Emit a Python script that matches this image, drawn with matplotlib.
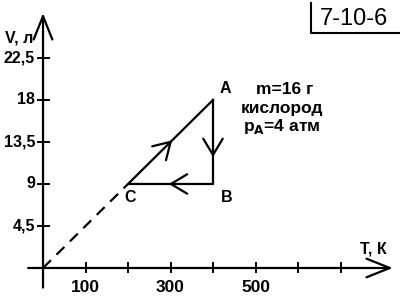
import matplotlib
matplotlib.use("Agg")
import matplotlib.pyplot as plt

plt.rcParams['font.family'] = ['Liberation Sans', 'DejaVu Sans']

# data
T_cycle = [400, 400, 200, 400]      # A -> B -> C -> A
V_cycle = [18, 9, 9, 18]
point_labels = ['A', 'B', 'C']
point_T = [400, 400, 200]
point_V = [18, 9, 9]
x_ticks = [100, 200, 300, 400, 500, 600, 700]
x_tick_labels = ['100', '', '300', '', '500', '', '']
y_ticks = [4.5, 9, 13.5, 18, 22.5]
y_tick_labels = ['4,5', '9', '13,5', '18', '22,5']

fig = plt.figure(figsize=(4, 3), dpi=100)
ax = fig.add_axes([0, 0, 1, 1])
ax.set_xlim(-101.2, 840)
ax.set_ylim(-3.43, 28.71)
ax.axis('off')

dx = (840 + 101.2) / 400
dy = (28.71 + 3.43) / 300

lw = 1.6
axis_head = '->, head_length=0.6, head_width=0.24'
ax.annotate('', xy=(823, 0), xytext=(-35, 0),
            arrowprops=dict(arrowstyle=axis_head, lw=lw, color='black',
                            mutation_scale=28, shrinkA=0, shrinkB=0))
ax.annotate('', xy=(0, 27.3), xytext=(0, -2.1),
            arrowprops=dict(arrowstyle=axis_head, lw=lw, color='black',
                            mutation_scale=28, shrinkA=0, shrinkB=0))

for t in x_ticks:
    ax.plot([t, t], [-4 * dy, 5 * dy], color='black', lw=1.4)
for t, lab in zip(x_ticks, x_tick_labels):
    if lab:
        ax.text(t, -12 * dy, lab, ha='center', va='top', fontsize=12.5, fontweight='bold')
for v, lab in zip(y_ticks, y_tick_labels):
    ax.plot([-5 * dx, 6 * dx], [v, v], color='black', lw=1.4)
    ax.text(-8 * dx, v, lab, ha='right', va='center', fontsize=11.5, fontweight='bold')

ax.text(-10 * dx, 27.3 - 24.5 * dy, 'V, л', ha='right', va='center', fontsize=11.5, fontweight='bold')
ax.text(809, 18.5 * dy, 'T, К', ha='right', va='center', fontsize=11.5, fontweight='bold')

ax.plot(T_cycle, V_cycle, color='black', lw=lw)
ax.plot([0, point_T[2]], [0, point_V[2]], color='black', lw=lw, ls=(0, (5, 3.5)))

def chevron(p0, p1, frac):
    x = p0[0] + (p1[0] - p0[0]) * frac
    y = p0[1] + (p1[1] - p0[1]) * frac
    bx = x - (p1[0] - p0[0]) * 0.05
    by = y - (p1[1] - p0[1]) * 0.05
    ax.annotate('', xy=(x, y), xytext=(bx, by),
                arrowprops=dict(arrowstyle='->, head_length=0.45, head_width=0.27', lw=lw,
                                color='black', mutation_scale=26, shrinkA=0, shrinkB=0))

chevron((point_T[0], point_V[0]), (point_T[1], point_V[1]), 0.68)
chevron((point_T[1], point_V[1]), (point_T[2], point_V[2]), 0.52)
chevron((point_T[2], point_V[2]), (point_T[0], point_V[0]), 0.52)

offs = [(12, 11), (14, -14), (2, -14)]
for lab, t, v, (ox, oy) in zip(point_labels, point_T, point_V, offs):
    ax.text(t + ox * dx, v + oy * dy, lab, ha='center', va='center', fontsize=11.5, fontweight='bold')

fig.text(285 / 400, 1 - 90 / 300, 'm=16 г', ha='center', va='center', fontsize=12.5, fontweight='bold')
fig.text(282 / 400, 1 - 108 / 300, 'кислород', ha='center', va='center', fontsize=12.5, fontweight='bold')
fig.text(282 / 400, 1 - 127 / 300, r'p$_\mathbf{A}$=4 атм', ha='center', va='center', fontsize=12.5, fontweight='bold')

fig.add_artist(plt.Line2D([311 / 400, 311 / 400, 1.0], [1 - 3 / 300, 1 - 33 / 300, 1 - 33 / 300],
                          color='black', lw=1.5, transform=fig.transFigure))
fig.text(354 / 400, 1 - 19 / 300, '7-10-6', ha='center', va='center', fontsize=17)

fig.savefig('out.png', dpi=100)
